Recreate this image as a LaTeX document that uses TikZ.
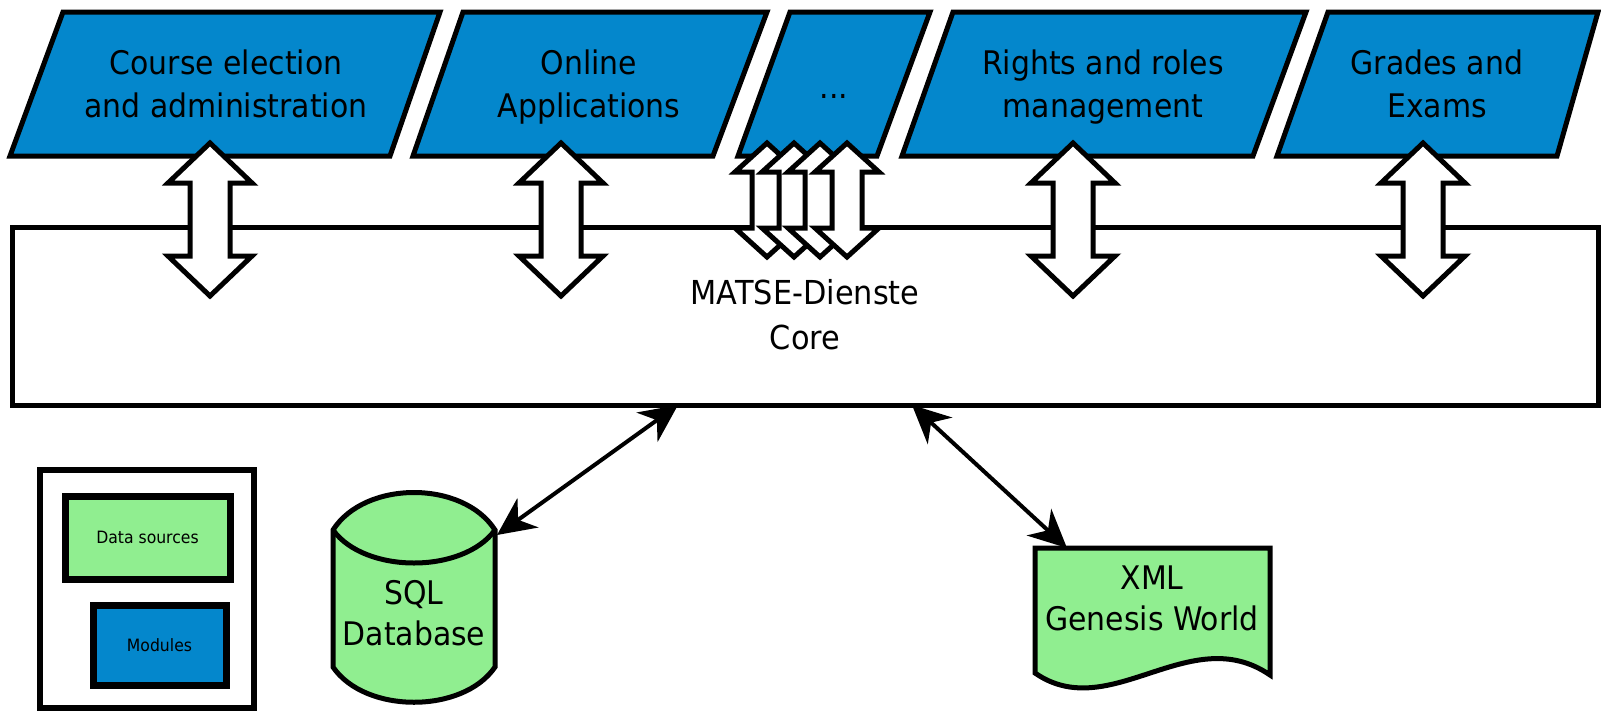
\documentclass[tikz,border=0pt]{standalone}
\usepackage{fontspec}
\setmainfont{DejaVu Sans}[FakeStretch=0.92]
\usetikzlibrary{arrows.meta}
\definecolor{modblue}{HTML}{0487CC}
\definecolor{datagreen}{HTML}{90EE90}
\newcommand{\dblarrow}[7]{%
  \draw[blockarrow] (#1,#2) -- ({#1+#6},#3) -- ({#1+#7},#3) -- ({#1+#7},#4) -- ({#1+#6},#4)
    -- (#1,#5) -- ({#1-#6},#4) -- ({#1-#7},#4) -- ({#1-#7},#3) -- ({#1-#6},#3) -- cycle;}
\tikzset{
  modshape/.style={draw, line width=5, fill=modblue, line join=miter},
  modtext/.style={align=center, inner sep=0, font=\fontsize{32.5}{43}\selectfont,
    execute at begin node=\strut, execute at end node=\strut},
  bigtext/.style={align=center, inner sep=0, font=\fontsize{33}{45}\selectfont,
    execute at begin node=\strut, execute at end node=\strut},
  datatext/.style={align=center, inner sep=0, font=\fontsize{32.5}{41}\selectfont,
    execute at begin node=\strut, execute at end node=\strut},
  datashape/.style={draw, line width=5, fill=datagreen, line join=miter},
  blockarrow/.style={draw, line width=5, fill=white, line join=miter},
  conn/.style={line width=4, {Stealth[length=38pt,width=36pt,inset=12pt]}-{Stealth[length=38pt,width=36pt,inset=12pt]}},
  legbox/.style={draw, line width=7, inner sep=0, font=\fontsize{17}{20}\selectfont},
}
\begin{document}
\begin{tikzpicture}[x=1pt,y=-1pt]
\useasboundingbox (0,0) rectangle (1601,712);
% modules
\draw[modshape] (63,12) -- (440,12) -- (390,156) -- (10,156) -- cycle;
\draw[modshape] (463,12) -- (767,12) -- (713,156) -- (413,156) -- cycle;
\draw[modshape] (790,12) -- (930,12) -- (877,156) -- (738,156) -- cycle;
\draw[modshape] (953,12) -- (1306,12) -- (1253,156) -- (902,156) -- cycle;
\draw[modshape] (1328,12) -- (1598,12) -- (1557,156) -- (1277,156) -- cycle;
\node[modtext] (m1) at (226,90) {Course election\\and administration};
\node[modtext] (m2) at (589,90) {Online\\Applications};
\node[modtext] (m3) at (834,90) {...};
\node[modtext] (m4) at (1103,90) {Rights and roles\\management};
\node[modtext] (m5) at (1437,90) {Grades and\\Exams};
% core
\node[draw, line width=5, minimum width=1586, minimum height=178, inner sep=0] (core) at (805,316) {};
\node[bigtext] (corelabel) at (805,321.5) {MATSE-Dienste\\Core};
% block arrows
\dblarrow{210}{143}{183}{256}{296}{42}{20}
\dblarrow{561}{143}{183}{256}{296}{42}{20}
\dblarrow{767}{143}{172}{228}{257}{32}{15}
\dblarrow{794}{143}{172}{228}{257}{32}{15}
\dblarrow{820}{143}{172}{228}{257}{32}{15}
\dblarrow{847}{143}{172}{228}{257}{32}{15}
\dblarrow{1073}{143}{183}{256}{296}{42}{20}
\dblarrow{1423}{143}{183}{256}{296}{42}{20}
% SQL database
\path[datashape] (333,530) .. controls (365,480) and (463,480) .. (495,530) -- (495,667)
  .. controls (463,714) and (365,714) .. (333,667) -- cycle;
\draw[line width=5] (333,530) .. controls (365,574) and (463,574) .. (495,530);
\node[datatext] (sql) at (414,619) {SQL\\Database};
% XML document
\path[datashape] (1035,548) -- (1270,548) -- (1270,675)
  .. controls (1190,620) and (1110,725) .. (1035,673) -- cycle;
\node[datatext] (xml) at (1152,604) {XML\\Genesis World};
% connectors
\coordinate (coresql) at (678,405);
\coordinate (sqlport) at (497,535);
\coordinate (corexml) at (912,405);
\coordinate (xmlport) at (1067,548);
\draw[conn] (sqlport) -- (coresql);
\draw[conn] (corexml) -- (xmlport);
% legend
\node[draw, line width=6, minimum width=214, minimum height=238, inner sep=0] (legend) at (147,589) {};
\node[legbox, fill=datagreen, minimum width=165, minimum height=83] (legdata) at (147.5,537.5) {Data sources};
\node[legbox, fill=modblue, minimum width=133, minimum height=80] (legmod) at (159.5,645) {Modules};
\end{tikzpicture}
\end{document}
